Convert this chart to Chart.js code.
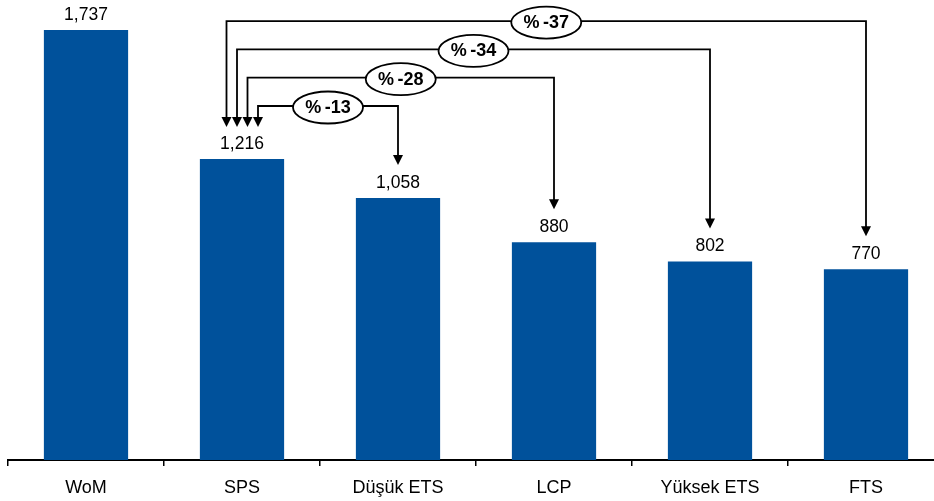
<!DOCTYPE html>
<html>
<head>
<meta charset="utf-8">
<title>Maliyet karşılaştırması</title>
<script src="https://cdn.jsdelivr.net/npm/chart.js@4.4.1/dist/chart.umd.min.js"></script>
<style>
  html, body { margin: 0; padding: 0; background: #fff; overflow: hidden; }
  #wrap { width: 950px; height: 501px; }
</style>
</head>
<body>
<div id="wrap"><canvas id="costChart" width="950" height="501"></canvas></div>
<script>
// =====================
// Chart data
// =====================
const categories = ['WoM', 'SPS', 'Düşük ETS', 'LCP', 'Yüksek ETS', 'FTS'];
const costValues = [1737, 1216, 1058, 880, 802, 770];

// Reduction brackets: all start at SPS and point to each later scenario
const baseIndex = 1;
const targetIndexes = [2, 3, 4, 5];

const FONT = 'Arial, "Liberation Sans", sans-serif';
const BAR_COLOR = '#00519b';

// Number format with thousands comma, e.g. 1,737
const fmt = v => v.toLocaleString('en-US');

// =====================
// Plugins
// =====================
const valueLabels = {
    id: 'valueLabels',
    afterDatasetsDraw(chart) {
        const ctx = chart.ctx;
        const meta = chart.getDatasetMeta(0);
        ctx.save();
        ctx.font = '17.5px ' + FONT;
        ctx.fillStyle = '#000';
        ctx.textAlign = 'center';
        ctx.textBaseline = 'middle';
        meta.data.forEach((bar, i) => {
            ctx.fillText(fmt(costValues[i]), bar.x, bar.y - 15);
        });
        ctx.restore();
    }
};

function arrowHead(ctx, x, tipY) {
    ctx.beginPath();
    ctx.moveTo(x - 5, tipY - 10);
    ctx.lineTo(x + 5, tipY - 10);
    ctx.lineTo(x, tipY);
    ctx.closePath();
    ctx.fill();
}

const reductionBrackets = {
    id: 'reductionBrackets',
    afterDraw(chart) {
        const ctx = chart.ctx;
        const meta = chart.getDatasetMeta(0);
        const base = meta.data[baseIndex];
        const baseTip = base.y - 32;

        ctx.save();
        ctx.strokeStyle = '#000';
        ctx.fillStyle = '#000';
        ctx.lineWidth = 1.8;

        targetIndexes.forEach((t, i) => {
            const target = meta.data[t];
            const leftX = base.x + 16 - i * 10.5;
            const lineY = 106 - i * 28.3;
            const rightX = target.x;
            const tipY = target.y - 33;

            // bracket line
            ctx.beginPath();
            ctx.moveTo(leftX, baseTip - 9);
            ctx.lineTo(leftX, lineY);
            ctx.lineTo(rightX, lineY);
            ctx.lineTo(rightX, tipY - 9);
            ctx.stroke();
            arrowHead(ctx, leftX, baseTip);
            arrowHead(ctx, rightX, tipY);

            // percentage bubble
            const cx = (leftX + rightX) / 2;
            const pct = Math.round((costValues[t] / costValues[baseIndex] - 1) * 100);
            ctx.beginPath();
            ctx.ellipse(cx, lineY + 1.5, 35, 16, 0, 0, Math.PI * 2);
            ctx.fillStyle = '#fff';
            ctx.fill();
            ctx.stroke();
            ctx.fillStyle = '#000';
            ctx.font = 'bold 18px ' + FONT;
            ctx.textAlign = 'center';
            ctx.textBaseline = 'middle';
            ctx.fillText('%\u2009-' + Math.abs(pct), cx, lineY + 2);
        });
        ctx.restore();
    }
};

// =====================
// Build chart
// =====================
const ctx = document.getElementById('costChart').getContext('2d');
const chart = new Chart(ctx, {
    type: 'bar',
    data: {
        labels: categories,
        datasets: [{
            data: costValues,
            backgroundColor: BAR_COLOR,
            borderWidth: 0,
            categoryPercentage: 1,
            barPercentage: 0.54
        }]
    },
    options: {
        responsive: false,
        animation: false,
        layout: { padding: { left: 8, right: 6, top: 0, bottom: 0 } },
        plugins: {
            legend: { display: false },
            tooltip: { enabled: false }
        },
        scales: {
            x: {
                grid: {
                    offset: true,
                    drawOnChartArea: false,
                    drawTicks: true,
                    tickLength: 6,
                    color: '#000',
                    lineWidth: 1.5
                },
                border: { display: true, color: '#000', width: 2 },
                ticks: {
                    color: '#000',
                    padding: 11,
                    font: { family: FONT, size: 18 },
                    maxRotation: 0
                },
                afterFit: s => { s.height = 41; }
            },
            y: {
                display: false,
                min: 0,
                max: 1858
            }
        }
    },
    plugins: [valueLabels, reductionBrackets]
});
</script>
</body>
</html>
